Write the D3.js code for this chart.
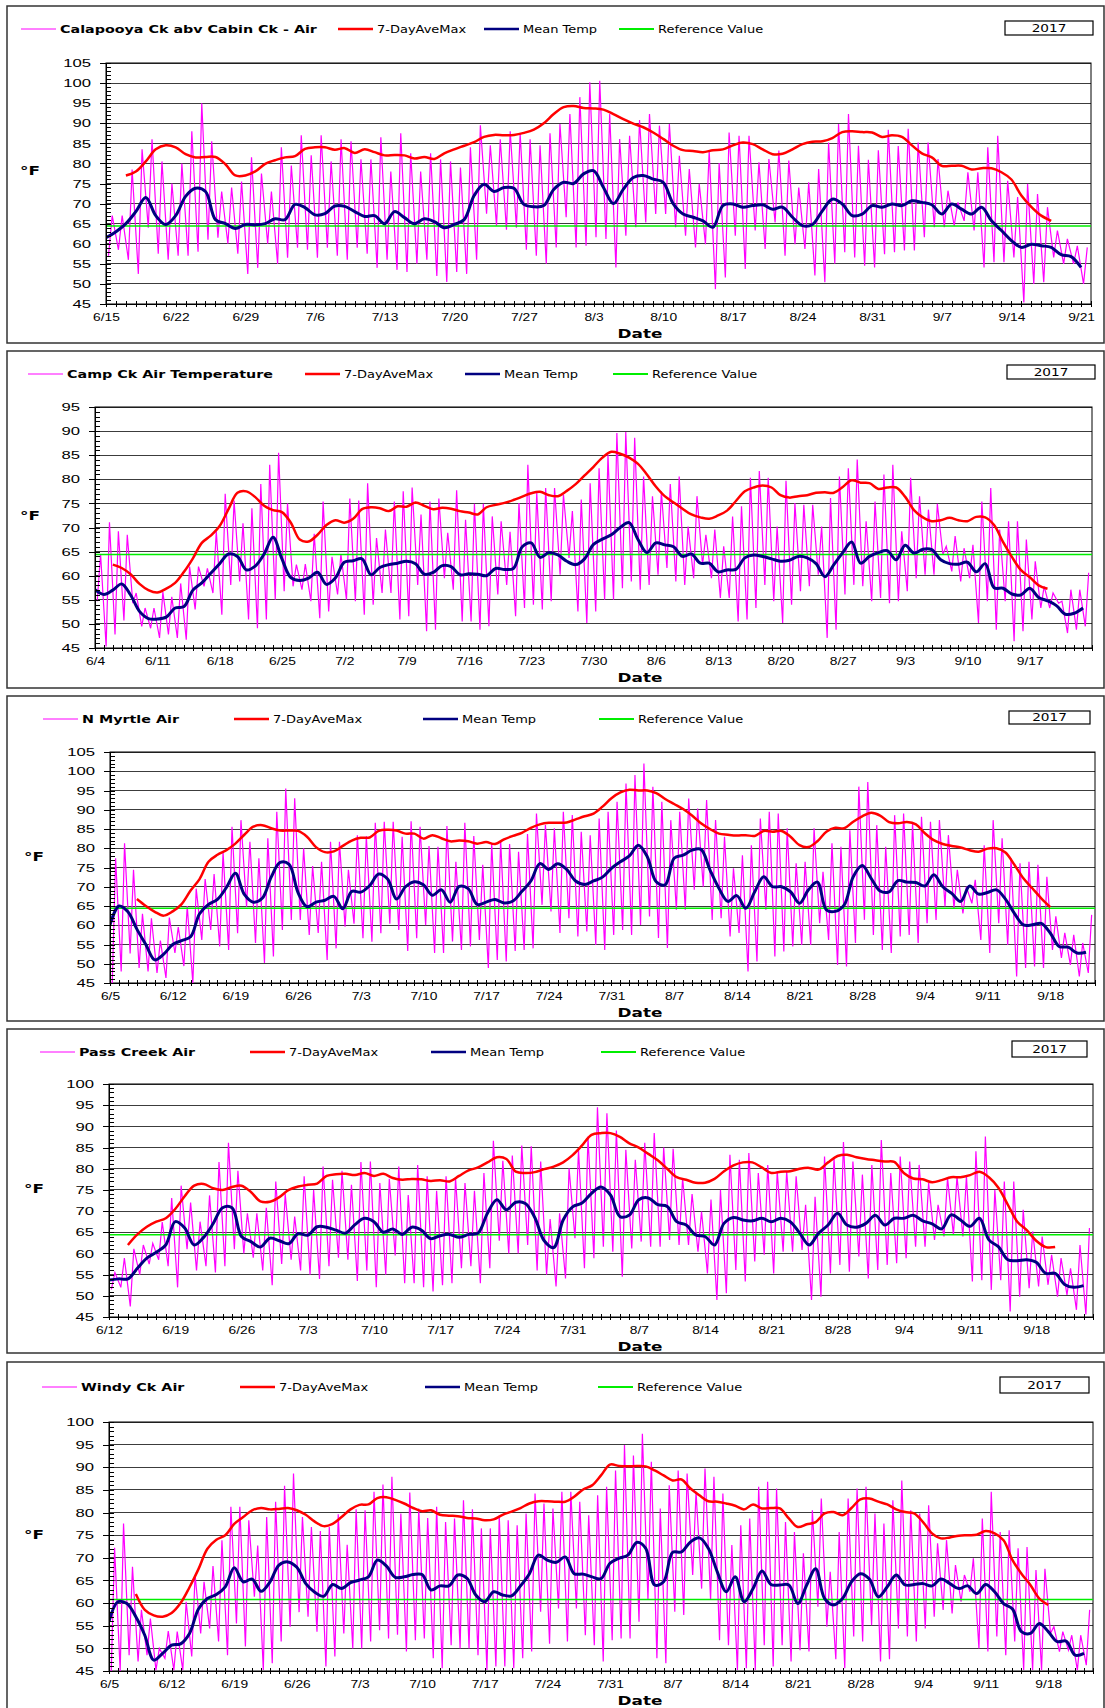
<!DOCTYPE html>
<html lang="en">
<head>
<meta charset="utf-8">
<title>2017 Air Temperature</title>
<script src="https://cdnjs.cloudflare.com/ajax/libs/d3/7.8.5/d3.min.js"></script>
<style>
  body { margin: 0; background: #fff; }
  svg { display: block; font-family: "DejaVu Sans", Verdana, sans-serif; }
  .grid line { stroke: #3c3c3c; stroke-width: 1; shape-rendering: crispEdges; }
  .axis path, .axis line { stroke: #000; shape-rendering: crispEdges; }
  .axis text { font-size: 11.5px; fill: #000; }
</style>
</head>
<body>
<div id="chart"></div>
<script>
// ---- labels ----
const siteNames = ["Calapooya Ck abv Cabin Ck - Air", "Camp Ck Air Temperature", "N Myrtle Air", "Pass Creek Air", "Windy Ck Air"];
const seriesNames = ["7-DayAveMax", "Mean Temp", "Reference Value"];
const yearLabel = "2017";

// ---- Calapooya (starts 6/15) ----
const calStart = "2017-06-15", calEnd = "2017-09-22", cal7dStart = "2017-06-17", calRef = 64.4, calTop = 105;
const calMax = [67,67,78.5,83.5,86,80.5,75,80,88,95,85.5,73,74,75.5,81.5,77.5,73,84,79.5,87,82,87,80.5,86,85.5,81,81,86.5,78,87.5,82.5,78,82.5,81,80.5,79,84,89.5,84.5,86,88,87.5,86,84.5,87.5,
  89.8,92.3,96.5,100.2,100.6,92.3,86.1,86.9,90.8,92.3,89.4,89.8,81.9,78.6,74.9,83.2,80.1,87.7,86.9,86.9,80.3,81.1,83.2,80.7,74,75.3,78.6,85.2,89.8,92.3,84.4,80.9,83.3,88.4,84.3,88.6,85.2,85.2,81.1,73.2,70.3,77.8,77.8,84,86.9,75.7,71.6,74.9,72.4,69.1,63.3,61.2,59.5,59.1];
const calMin = [57,58.5,56,52.5,64,57.5,56,57,57,58,61,61.5,60,57.5,52.5,54,60,55,56.5,59,58.5,56.5,59,57,56,59,57.5,54,56,53.5,53,55,56,52,50.5,53,52.5,56,67.5,64.5,63.5,64,58.5,57,55,
  59.1,66.6,59.1,59.5,61.6,61.2,54.1,62,64.1,65.3,67.4,67.4,64.1,62,59.1,59.9,48.7,51.6,62,53.7,63.3,58.7,65.3,57,59.9,58.7,52.1,50.4,55,57.9,56.6,54.5,54.1,57.4,57.9,58.3,58.3,61.6,64.1,64.1,64.5,65.7,63.3,54.1,55.4,55.4,56.6,45.4,50,50.4,56.6,55,55,50];
const calMean = [61.5,63,65,68,71.5,67,64.8,67,71.8,73.8,73,66,65,63.8,64.8,64.7,65,66.2,66,69.8,69,67.2,67.5,69.4,69.3,68,66.8,67,65,68,66.5,65,66.2,65.5,64,64.8,66,72,74.8,73,74,73.8,69.8,69.2,69.5,
  73.5,75.3,75,77.4,78.2,74,70,73.6,76.5,77,76.1,75.3,70,67.4,66.6,65.7,64.1,69.5,69.9,69.1,69.5,69.7,68.6,69.1,66.6,64.5,64.8,68.2,71.1,69.9,67,67.4,69.5,69.1,69.9,69.5,70.7,70.3,69.7,67.4,69.9,68.6,67.4,69.1,65.7,63.3,60.8,59.1,59.9,59.5,59.1,57.3,56.8,54.1];
const cal7d = [77,78,80.5,83.5,84.5,84,82.3,81.5,81.6,81.6,79.8,77,77,78,79.9,80.8,81.5,81.8,83.6,84,84,83.4,83.8,82.6,83.5,82.8,82,82.1,82,81.2,81.6,81.1,82.5,83.5,84.4,85.3,86.6,87.1,87,87.1,87.6,88.4,90,
  92.3,94,94.3,93.8,93.7,93.4,92.3,91,89.9,89,87.7,86.1,84.4,83.3,83.1,82.8,83.3,83.5,84.5,85.2,84.8,83.5,82.3,82.4,83.5,84.8,85.4,85.5,86.3,87.8,88,87.8,87.7,86.6,87,86.6,84.5,82.5,81.5,79.4,79.4,79.4,78.5,78.8,78.8,77.8,76,72,69.2,67,65.7];

// ---- Camp Ck (starts 6/4) ----
const campStart = "2017-06-04", campEnd = "2017-09-24", camp7dStart = "2017-06-06", campRef = 64.4, campTop = 95;
const campMax = [64.5,71.1,69.2,68.5,56.4,53.3,53.3,56.6,55.6,58.4,61.9,61.9,61.5,69.2,77,75.6,70.9,74,79,83,85.5,75,62.3,62.4,68.7,75.4,63.9,64.5,76,75.6,79.2,67.8,69.6,75.4,77.5,78.3,72.7,75.4,76,68.9,77.7,71.6,74.9,74.9,72.3,71.3,69.1,75.1,83,77.2,78.2,
  78.2,76.8,73.4,75.8,79.2,82.3,85.1,89.6,89.8,88.6,80.6,76.5,77.5,79,80.6,70.2,76.5,68.5,69.6,66.1,72.3,74.4,80.3,81.7,80.3,70.2,79.7,75.1,74.7,74.7,70.2,76.1,80.6,82.3,84.1,71.3,75.4,81,83,69.2,80.3,76.5,73.7,74.9,66.1,68.2,65.7,66.4,75.4,78.2,69.6,71.3,71.3,67.5,63,57.8,56.4,54.7,57.1,57.1,60.6];
const campMin = [54.7,45.3,47.8,50.7,54.3,49.5,49.1,47.1,47.8,47.1,46.7,53,57.8,56.4,51.9,58.1,58.8,50.9,49.1,50.9,55,56.8,57.8,57.1,54.7,51.2,52.6,56.1,55,54.7,51.9,54,56.4,56.4,50.9,51.6,58.1,48.5,48.8,59.5,57.1,50.5,50.5,48.8,49.5,56.1,58.1,51.6,53.3,54,53,
  54.7,60.2,63.7,52.6,50.2,52.6,55,55,57.4,58.8,57.1,58.1,60.2,61.6,58.8,58.1,59.5,62.3,59.5,55.4,55.4,50.5,50.9,53.3,58.1,54.7,50.2,54,56.8,57.8,60.2,47.1,48.8,56.1,58.1,57.8,54.7,55.4,54.3,54.7,56.8,59.5,60.2,60.2,64.4,60.9,58.8,59.5,50.2,54.7,48.8,54.7,46.4,48.5,50.9,53.3,53.3,54.3,48.1,48.8,49.5];
const campMean = [57.1,56.1,57,58.3,56,52.6,51.1,51,51.4,53.3,53.6,57,58.5,60.5,62.5,64.5,64,61.2,62,64.5,68,63.5,59.6,59,59.5,60.7,58.2,59.5,62.8,63.1,63.5,60.2,61.7,62.3,62.6,63,62.5,60.3,60.7,62.1,61.9,60.2,60.4,60.3,60,61.5,61.3,61.5,66,66.8,63.8,
  64.8,64.3,63,62.3,63.5,66.5,67.6,68.5,70,71,67.5,64.8,66.8,66.4,66,64,64.5,62.6,62.6,60.8,61.2,61.3,63.7,64.3,64,63.5,63,63.2,64,63.7,62.5,59.8,62.3,64.8,67,62.6,64,64.8,65.2,63.3,66.3,64.7,65.5,65.4,63.3,62.5,62.4,62.8,60.8,62.5,57.5,57.4,56.2,56,57.4,55.5,54.8,53.8,52,52.2,53.3];
const camp7d = [62.3,61.6,60.3,58.3,57,56.5,57.3,58.5,60.8,63.6,66.8,68.3,70.3,73.8,77.2,77.5,76.3,74.5,73.6,73.2,71,67.5,67.1,68.5,70.5,71.5,71,71.8,73.8,74.2,74,73.4,74.4,74.3,75.2,74.5,73.8,74.1,73.9,73.4,73.1,72.7,74.2,74.7,75.1,75.7,76.4,77.1,77.4,76.7,
  76.5,77.6,79,80.8,82.6,84.5,85.7,85.3,84.5,83.2,81,78.5,76.5,75.2,73.9,72.7,72.1,71.8,72.5,73.5,75.5,77.5,78.3,78.7,78.3,76.7,76.2,76.5,76.7,77.2,77.3,77.2,78.4,79.8,79.3,79.2,78,78.3,78.3,76.4,73.6,72.1,71.3,71.5,72,71.5,71.3,72.2,72.1,70.5,67,63.9,61.2,59.7,58,57.3];

// ---- N Myrtle (starts 6/5) ----
const myrStart = "2017-06-05", myrEnd = "2017-09-23", myr7dStart = "2017-06-08", myrRef = 64.4, myrTop = 105;
const myrMax = [77.4,81.3,74.4,63,61.8,56,62,59.5,65,69.5,72,73.3,79,85.6,87.3,81.7,77.4,82.6,89.5,95.5,93,80,75.4,76.5,81.7,81.7,74.4,83.4,83.2,86.6,86.9,86.9,83,87,85.6,80.6,80.4,85.8,76.5,86.6,83.2,75.7,81.3,82.1,81.1,79.1,83.7,89,86,
  85.2,89.5,88.6,84.3,83.4,87.7,89.5,92.1,96.8,99,102,96,92.1,87.3,89.5,92.9,90.3,92.5,87.3,83,74.8,78.2,80.8,87.7,89.5,89,85.2,76.1,76.5,85.2,73.9,81.3,80.4,84.7,96,97.2,86,80.4,88.6,89,86.5,88.2,86.9,87.3,83.4,74.4,70,71.8,80.8,87.3,82.6,77.4,76.1,76.5,75.7,72.6,62.3,58,57.5,55.4,62.7];
const myrMin = [45,48,52.7,48.9,48,47.6,46.3,52.8,49.4,45,56.2,58.8,54.5,53.6,57.9,64.8,55.4,50.2,51.9,58.8,61.4,61.4,57.5,58,51,54,59.6,60.4,56.6,55.7,57.9,60.4,58.8,53.3,56.6,60,52.8,52.8,55.8,53.6,54.5,56.2,48.9,51,50.6,53.3,53.6,54,65.3,
  63.6,58,61.8,57.1,58.4,54.9,53.6,57.5,58.8,57.5,60.1,62.3,56.7,54.1,64,64,69.2,70,61.4,61.8,57.1,58,48,50.6,64,51.9,53.2,54.5,54.9,54.9,60.5,56.2,49.7,49.3,55.4,61.4,57.5,53.6,52.8,57.1,57.5,55.4,60.5,61.4,64.9,64.4,63.1,65.7,56.2,52.8,60.5,54.9,46.7,48.9,49.3,48.9,53.6,51.5,49.7,46.7,47.6];
const myrMean = [60.1,65,63.5,59,55,51,52.5,55,56,57,63,65.4,66.7,69.8,73.5,68,66,67,72.5,76.3,75.8,68.5,64.8,66,66.5,67.5,64.3,68.8,68.6,70.3,73.3,72,66.8,70,71.3,70.5,67.8,69.2,66,70.1,69.5,65.4,66,66.7,65.8,66.3,68.8,71.5,76,
  74.5,76,74.5,71.5,70.6,71.5,72.5,74.8,76.5,78,80.8,77.8,71.3,70.5,77.4,78.2,79.5,79.7,74.4,69.6,66.2,67.7,64.4,68.7,72.6,70,70,68.7,65.7,69.2,71.2,64,63.6,65.3,72.6,75.5,72.2,68.9,68.7,71.6,71.2,71.1,70.2,73.1,70,68.3,66.2,70.2,68.1,68.5,69.2,66.8,63.1,60.1,60.1,60.5,58,54.5,54.3,52.8,53];
const myr7d = [66.8,65,63.5,62.5,63.6,65.5,69,72,76.5,78.3,79.5,81.2,83.5,85.6,86,85.2,84.6,84.6,84.5,83,80.3,79,79.2,80.6,82,82.7,82.8,84.5,84.8,84.6,83.8,83.8,82.5,83.4,82.6,81.8,82,81.8,81.2,81.6,81.1,82.3,83.2,84,85.3,86.2,86.6,
  86.6,86.7,87.5,88.3,89,90.8,93,94.5,95.2,95,95,94.3,92.8,91.5,90.2,88.5,86.5,85,83.8,83.5,83.3,83.4,83.2,84.5,84.3,84.5,83,80.8,80.3,81.8,84.3,85.3,85.2,86.9,88.3,89.2,88.5,86.8,86.5,86.8,86.2,83.9,82.1,81.1,80.6,80.2,79.5,79.1,79.9,80,78.9,75.7,72.2,69.6,67,64.7];

// ---- Pass Creek (starts 6/12) ----
const passStart = "2017-06-12", passEnd = "2017-09-24", pass7dStart = "2017-06-14", passRef = 64.4, passTop = 100;
const passMax = [55.5,58.9,61.1,62,62.4,67.4,73.1,76,72,67.5,73.7,81.6,86.1,79.5,69.5,69.5,70.8,77,74,68.7,78.2,75,80.5,77.4,79.5,76.2,81.6,81.7,76.6,77.6,80.5,73.8,80.9,78.2,74.8,78.2,77.8,76.6,74.8,79,86.6,81.9,83.1,85.5,85.3,81.7,68.1,
  69.5,80.1,84.5,87.6,94.5,93.1,89,84.5,82.1,86.1,88.4,85,84.7,77.8,74,69.9,72.7,75,83.3,82.1,83.7,79,80.9,79.4,79.4,78.2,71.5,73.4,82.9,82.5,86.3,81.7,78.6,80.9,86.8,79,82.9,81.7,80.9,76.6,71.5,77.8,78.2,78.2,84.1,87.6,75,77,77,70.3,65.2,64,59.7,58.9,56.5,62,66];
const passMin = [51.5,52,47.5,55,57.5,58.5,57,52,61,56,57,55.5,57,61,60,59,56,52.5,57.5,58.5,56,55,54,57,59,58.5,53.5,56,52,55,59.5,53,53,52,51,52.5,53,56.5,57,53,56.5,63,60,60,62,56,55,
  52.2,54.1,63.6,56.5,58.9,61.6,60.4,54.5,61.2,62.8,61.6,61.6,63.2,62,62,60.4,55.3,49,50.6,56.1,53.4,58.1,59.7,55.3,60.4,60.4,60.8,49,49.8,55.3,57.3,55.7,59.3,54.1,56.1,57.3,57.7,58.9,61.6,61.6,63.2,64,64.4,64,53.4,53.7,51.4,53.7,46.3,49.8,51.8,52.2,52.6,49.8,50.2,46.7,45.6];
const passMean = [53.7,54,54,56.5,58.9,60.3,62,67.5,66,62,63.8,67,70.8,70.8,64,62.8,61.5,63.6,63,62.3,64.7,64.3,66.3,66.2,65.5,64.8,66.8,68.3,67.5,65,65.8,64.5,66.2,65.5,63.5,64.2,64.5,63.8,64.5,64.8,69.5,72.7,70.3,72.1,71.8,68.5,63,
  61.4,67.9,71,71.9,74.2,75.7,73.8,68.7,69.1,72.7,73.1,71.5,71.1,67.5,66.7,64.4,64,62,67.1,68.5,67.9,67.7,68.3,67.5,68.3,67.5,64.8,62,64.8,66.7,69.5,66.7,66.2,67.1,69,66.7,68.3,68.3,69,67.7,67,65.8,69.1,67.9,66.4,68.3,63.2,61.6,58.5,58.3,58.5,57.9,55.3,55.3,52.7,52,52.4];
const pass7d = [62,64.5,66.3,67.5,68.3,70.5,73.5,76,76.4,75.4,75,75.7,76,74.5,72.3,72.2,73.3,75,75.8,76.2,76.5,78.3,78.7,78.8,78.5,79,78.3,78.8,77.8,77.4,77.6,77.5,77.1,77.3,77,78.3,79.6,80.3,81.5,82.7,82.3,79.3,79,79.2,79.9,
  80.5,81.5,83.2,85.5,88,88.4,88.4,87.5,86,85,83.5,82,80,78,77.4,76.7,76.7,77.6,79.4,80.8,81.5,81.5,80.3,79,79.3,79.4,80,80.2,79.8,81.5,83,83.3,82.7,82.3,82,81.7,81.6,79,77.7,77.5,76.8,77.3,78,78,78.5,79.3,78,75.5,71.5,67.5,65.5,63,61.5,61.5];

// ---- Windy Ck (starts 6/5) ----
const windStart = "2017-06-05", windEnd = "2017-09-23", wind7dStart = "2017-06-08", windRef = 60.8, windTop = 100;
const windMax = [72.2,77.6,68,58.5,56.6,50,53.8,53.7,60.3,66.2,64.7,68.2,73.9,81.3,81.3,78.3,72.7,79,82.4,85.9,88.6,79,76.8,75.9,76.8,79.6,72.9,80.7,80.5,84.6,86.2,87.9,79.8,84.4,80.9,78.8,81.3,77.9,78.7,82.7,80.7,76.5,76.5,79.4,78.3,77.2,79.8,84.2,82,
  80.9,84.6,84.6,82.4,79.4,83.8,85.7,89.3,94.9,92.6,97.4,91.2,80.9,86,89.3,88.6,84.6,89.7,87.9,84.2,72.8,77.2,78.7,85.7,86.8,85.3,77.9,75.7,71,80.5,83.1,66.9,75.7,83.1,85.3,85.7,79.8,77.6,82.7,87.1,80.5,79.8,81.6,73.2,73.9,68.4,66.2,69.9,78.7,84.6,75.7,76.1,72.1,72.4,67.3,67.6,54.8,53.7,52.9,52.9,58.5];
const windMin = [45,45,48.5,47.1,48.5,45.2,47.8,45.2,45.2,48.2,53.3,54.4,51.5,48.5,55.5,50.4,61.4,45.2,46.7,51.5,54.8,58,57,53.7,46,48.2,53.3,50,50,51.5,54,52.2,53,49.3,51.8,52.2,47.8,45.6,50.7,50,50,48.5,45.2,46,46,45.6,47.8,49.3,58.1,
  51,58.8,51.5,58.8,52.9,50.7,47.1,51.8,52.2,52.2,55.9,60.7,47.8,46.7,58.1,57.4,66.2,63.2,60.7,51.8,50.7,45.2,45.6,45.2,50.7,46,50.7,47.1,49.6,49.3,59.2,54.8,47.6,45.6,52.6,51.5,55.1,47.1,47.6,54.4,52.6,51.5,54.4,57,58.5,57.7,60.3,62.5,50,49.3,52.6,48.5,51.5,45.2,45.2,45.2,53.3,49.3,49.6,45.2,46.3];
const windMean = [55.9,60.3,59.9,57,52.9,47.4,48.9,50.7,51,53.3,58.7,61,61.9,63.6,67.8,64.7,65.3,62.6,64.7,68.4,69.1,67.9,64.3,62.4,61.5,64.1,63.2,64.5,65.1,65.8,69.5,68.2,65.7,65.8,66.3,66.3,62.9,63.8,63.8,66.2,65.5,61.8,60.3,62.5,61.8,61.6,63.8,66.5,70.6,
  69.5,69,70.2,66.5,66.4,65.8,65.4,68.8,69.9,70.6,73.4,72.1,64,64.7,71.2,71.3,73.5,74.4,72.1,66.9,62.5,65.8,60.3,63.2,67.1,64.1,64,64,59.9,64,67.6,61,59.6,61,64.7,66.5,65.3,61.4,63.6,66.2,64,64.1,64.3,63.8,65.3,64.3,63.2,63.8,62.1,64.1,62.5,59.9,58.7,53.7,53.3,55.5,53.7,51.5,51.6,48.5,48.9];
const wind7d = [62,58.5,57.3,57,57.8,60,63.5,67.5,72,74,75,77.5,79,80.5,81,80.7,80.8,81,80.5,79.5,78,77,77.5,79,80.7,81.7,81.8,83.2,83.4,82.8,82,81,80.3,80.5,79.5,79.3,79.2,78.8,78.7,78.3,78.5,79.5,80.2,81,82,82.5,82.5,
  82.4,82.4,83.5,85.1,86,88.2,90.6,90.3,90.2,90.3,90.2,89.3,88.2,87.1,87.3,85.3,83.8,82.5,82.4,82,81.5,80.7,81.8,80.9,81,80.9,78.7,76.8,77.4,77.9,79.8,80.1,79.4,81,82.9,83.1,82.4,81.8,80.7,80.1,79.8,77.9,75.4,74.3,74.5,74.9,75,75.1,75.9,75.4,73.9,69.5,66.5,64,61,59.6];

// table built from the arrays above
const sites = [
  {name: siteNames[0], start: calStart, end: calEnd, top: calTop, max: calMax, min: calMin, mean: calMean, avg: cal7d, avgStart: cal7dStart, ref: calRef},
  {name: siteNames[1], start: campStart, end: campEnd, top: campTop, max: campMax, min: campMin, mean: campMean, avg: camp7d, avgStart: camp7dStart, ref: campRef},
  {name: siteNames[2], start: myrStart, end: myrEnd, top: myrTop, max: myrMax, min: myrMin, mean: myrMean, avg: myr7d, avgStart: myr7dStart, ref: myrRef},
  {name: siteNames[3], start: passStart, end: passEnd, top: passTop, max: passMax, min: passMin, mean: passMean, avg: pass7d, avgStart: pass7dStart, ref: passRef},
  {name: siteNames[4], start: windStart, end: windEnd, top: windTop, max: windMax, min: windMin, mean: windMean, avg: wind7d, avgStart: wind7dStart, ref: windRef}
];

// where each panel sits on the page
const layouts = [
  {box: [7, 6, 1097, 337],    left: 106, right: 1091, top: 63,   bottom: 304,  legendY: 29,   legendX: [21, 338, 484, 619], yearBox: [1005, 21, 88, 14],  fX: 30, fY: 170},
  {box: [7, 351, 1097, 337],  left: 95,  right: 1092, top: 407,  bottom: 648,  legendY: 374,  legendX: [28, 305, 465, 613], yearBox: [1007, 365, 88, 14], fX: 30, fY: 515},
  {box: [7, 696, 1097, 325],  left: 110, right: 1095, top: 752,  bottom: 983,  legendY: 719,  legendX: [43, 234, 423, 599], yearBox: [1009, 711, 81, 13], fX: 34, fY: 856},
  {box: [7, 1029, 1097, 324], left: 109, right: 1093, top: 1084, bottom: 1317, legendY: 1052, legendX: [40, 250, 431, 601], yearBox: [1012, 1041, 75, 16], fX: 34, fY: 1188},
  {box: [7, 1362, 1097, 360], left: 109, right: 1093, top: 1422, bottom: 1671, legendY: 1387, legendX: [42, 240, 425, 598], yearBox: [1000, 1377, 89, 16], fX: 34, fY: 1534}
];

const colors = {raw: "#ff00ff", avg: "#ff0000", mean: "#000080", ref: "#00ee00"};
const SX = 1.3;   // the original text is drawn horizontally stretched
const SXY = 1.45; // y tick numbers are stretched a bit more
const SXX = 1.2;  // date labels a bit less
const fmt = d3.timeFormat("%-m/%-d");
const parseDay = d3.timeParse("%Y-%m-%d");

const svg = d3.select("#chart").append("svg")
  .attr("width", 1105)
  .attr("height", 1708);

function stretchText(g, x, y, str, size, weight, anchor) {
  return g.append("text")
    .attr("transform", `translate(${x},${y}) scale(${SX},1)`)
    .attr("dy", "0.35em")
    .attr("text-anchor", anchor || "start")
    .style("font-size", size + "px")
    .style("font-weight", weight || "normal")
    .text(str);
}

function drawPanel(s, L, k) {
  const g = svg.append("g");

  g.append("rect")
    .attr("x", L.box[0]).attr("y", L.box[1])
    .attr("width", L.box[2]).attr("height", L.box[3])
    .attr("fill", "none").attr("stroke", "#333").attr("stroke-width", 1.5);

  const t0 = parseDay(s.start);
  const tEnd = parseDay(s.end);
  const x = d3.scaleTime().domain([t0, tEnd]).range([L.left, L.right]);
  const y = d3.scaleLinear().domain([45, s.top]).range([L.bottom, L.top]);

  // gridlines
  g.append("g").attr("class", "grid")
    .selectAll("line")
    .data(d3.range(50, s.top + 1, 5))
    .join("line")
      .attr("x1", L.left).attr("x2", L.right)
      .attr("y1", d => y(d)).attr("y2", d => y(d));

  g.append("rect")
    .attr("x", L.left).attr("y", L.top)
    .attr("width", L.right - L.left).attr("height", L.bottom - L.top)
    .attr("fill", "none").attr("stroke", "#000").attr("stroke-width", 1);

  const clipId = "clip" + k;
  svg.append("clipPath").attr("id", clipId)
    .append("rect")
      .attr("x", L.left).attr("y", L.top)
      .attr("width", L.right - L.left).attr("height", L.bottom - L.top);

  const plot = g.append("g").attr("clip-path", `url(#${clipId})`);

  // raw trace: daily low in early morning, high in mid afternoon
  const days = d3.timeDay.range(t0, d3.timeDay.offset(t0, s.max.length));
  const raw = [];
  days.forEach((d, i) => {
    raw.push([d3.timeHour.offset(d, 6), s.min[i]]);
    raw.push([d3.timeHour.offset(d, 15), s.max[i]]);
  });
  plot.append("path")
    .datum(raw)
    .attr("fill", "none")
    .attr("stroke", colors.raw)
    .attr("stroke-width", 1.2)
    .attr("d", d3.line().x(d => x(d[0])).y(d => y(d[1])));

  plot.append("line")
    .attr("x1", L.left).attr("x2", L.right)
    .attr("y1", y(s.ref)).attr("y2", y(s.ref))
    .attr("stroke", colors.ref).attr("stroke-width", 1.5);

  const smooth = d3.line().curve(d3.curveCatmullRom.alpha(0.5)).x(d => x(d[0])).y(d => y(d[1]));

  const a0 = parseDay(s.avgStart);
  plot.append("path")
    .datum(s.avg.map((v, i) => [d3.timeDay.offset(a0, i), v]))
    .attr("fill", "none")
    .attr("stroke", colors.avg)
    .attr("stroke-width", 2.5)
    .attr("d", smooth);

  plot.append("path")
    .datum(s.mean.map((v, i) => [days[i], v]))
    .attr("fill", "none")
    .attr("stroke", colors.mean)
    .attr("stroke-width", 3)
    .attr("d", smooth);

  // y axis: labelled ticks every 5 outward, minor ticks every 1 inward
  const yAxis = g.append("g").attr("class", "axis")
    .attr("transform", `translate(${L.left},0)`)
    .call(d3.axisLeft(y).tickValues(d3.range(45, s.top + 1, 5)).tickSize(6));
  yAxis.selectAll(".tick text")
    .attr("x", -15 / SXY)
    .attr("transform", `scale(${SXY},1)`);

  g.append("g").attr("class", "axis")
    .attr("transform", `translate(${L.left},0)`)
    .call(d3.axisRight(y).tickValues(d3.range(45, s.top + 1, 1)).tickSize(5).tickFormat(""))
    .select(".domain").remove();

  // x axis: a tick every day, a label every week
  const allDays = d3.timeDay.range(t0, d3.timeDay.offset(tEnd, 1));
  const xAxis = g.append("g").attr("class", "axis")
    .attr("transform", `translate(0,${L.bottom})`)
    .call(d3.axisBottom(x).tickValues(allDays).tickSize(3).tickPadding(6)
      .tickFormat((d, i) => (i % 7 === 0 && d < tEnd) ? fmt(d) : ""));
  xAxis.selectAll(".tick line").attr("y1", -3);
  xAxis.selectAll(".tick text").attr("transform", `scale(${SXX},1)`);

  stretchText(g, 640, L.bottom + 29, "Date", 13, "bold", "middle");
  stretchText(g, L.fX, L.fY, "°F", 13, "bold", "middle");

  // legend
  const legendItems = [
    {label: s.name, color: colors.raw, width: 1, bold: true},
    {label: seriesNames[0], color: colors.avg, width: 2.5},
    {label: seriesNames[1], color: colors.mean, width: 2.5},
    {label: seriesNames[2], color: colors.ref, width: 2}
  ];
  legendItems.forEach((it, i) => {
    const lx = L.legendX[i];
    g.append("line")
      .attr("x1", lx).attr("x2", lx + 35)
      .attr("y1", L.legendY).attr("y2", L.legendY)
      .attr("stroke", it.color).attr("stroke-width", it.width);
    stretchText(g, lx + 39, L.legendY, it.label, it.bold ? 11 : 10, it.bold ? "bold" : "normal");
  });

  const yb = L.yearBox;
  g.append("rect")
    .attr("x", yb[0]).attr("y", yb[1]).attr("width", yb[2]).attr("height", yb[3])
    .attr("fill", "#fff").attr("stroke", "#000").attr("stroke-width", 1.2);
  stretchText(g, yb[0] + yb[2] / 2, yb[1] + yb[3] / 2, yearLabel, 10.5, "normal", "middle");
}

sites.forEach((s, k) => drawPanel(s, layouts[k], k));
</script>
</body>
</html>
